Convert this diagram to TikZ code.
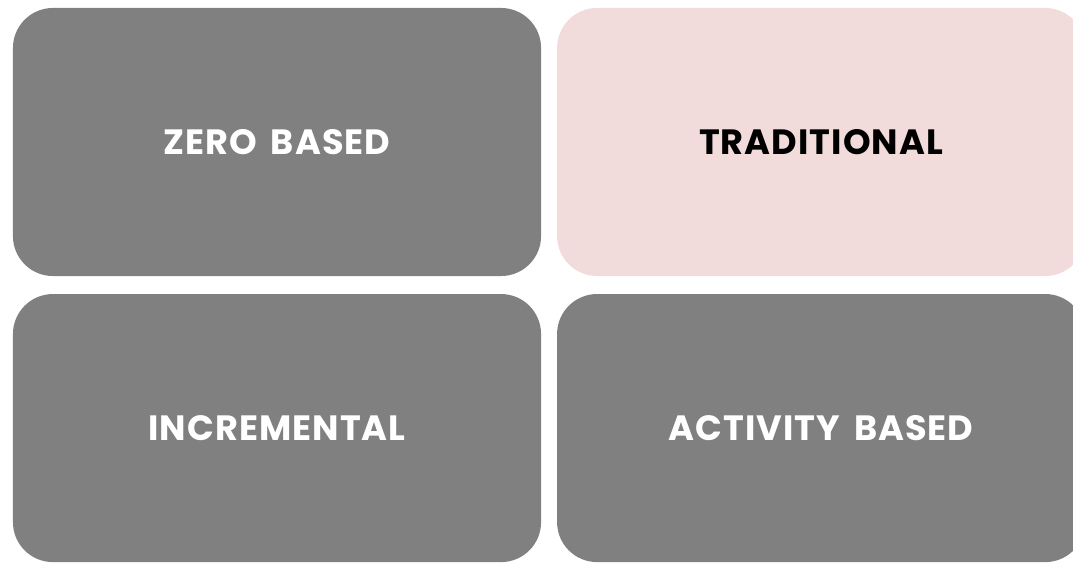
\documentclass[tikz,border=0pt]{standalone}
\usepackage{fontspec}
\setmainfont{Poppins}[LetterSpace=3, WordSpace=1.6]
\usepackage{tikz}
\usetikzlibrary{positioning}

\definecolor{boxgray}{HTML}{808080}
\definecolor{boxpink}{HTML}{F2DCDB}

\begin{document}
\begin{tikzpicture}[x=0.025cm, y=-0.025cm,
    every node/.style={font=\fontsize{25}{30}\selectfont\bfseries},
    budgetbox/.style={rounded corners=1cm, minimum width=13.2cm, minimum height=6.7cm, inner sep=0pt, outer sep=0pt}]
    % Page size and clipping at the right edge
    \useasboundingbox (0,0) rectangle (1073,563);
    \clip (0,0) rectangle (1073,563);

    % Top row
    \node[budgetbox, fill=boxgray, text=white] (zero) at (277,142) {ZERO BASED};
    \node[budgetbox, fill=boxpink, text=black, right=0.4cm of zero] (trad) {TRADITIONAL};

    % Bottom row
    \node[budgetbox, fill=boxgray, text=white, below=0.45cm of zero] (incr) {INCREMENTAL};
    \node[budgetbox, fill=boxgray, text=white, right=0.4cm of incr] (abc) {ACTIVITY BASED};
\end{tikzpicture}
\end{document}
